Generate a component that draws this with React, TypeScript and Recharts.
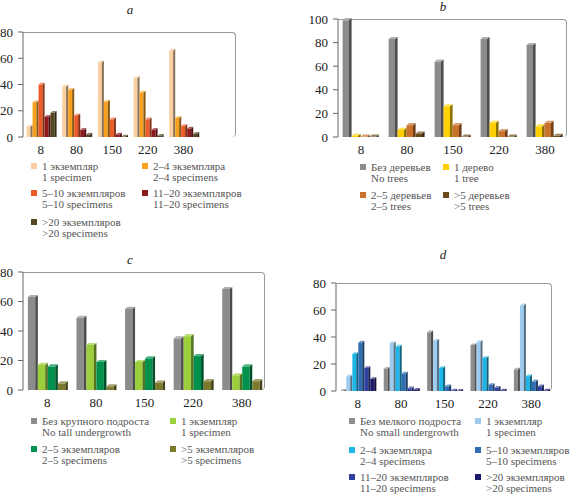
import React from 'react';
import { BarChart, Bar, XAxis, YAxis } from 'recharts';

const FONT = '"Liberation Serif", "Times New Roman", Times, "DejaVu Serif", serif';

// ---------- data ----------
const categoriesA = ['8', '80', '150', '220', '380', ''];
const categories = ['8', '80', '150', '220', '380'];

const aOne = [8, 38.5, 57, 45, 66];
const aTwoFour = [26.5, 36, 27, 34, 14.5];
const aFiveTen = [40, 16.5, 13.5, 13.5, 8.5];
const aElevenTwenty = [15.5, 5.5, 2, 5.5, 6.5];
const aOverTwenty = [18.5, 2, 0.5, 1, 2.5];

const bNoTrees = [99, 83, 64, 83, 78];
const bOneTree = [1, 6, 26, 12, 9];
const bTwoFive = [0.3, 10, 10, 5, 12];
const bOverFive = [0.3, 3, 0.3, 0.3, 1];

const cNone = [63, 49, 55, 35, 68.5];
const cOne = [17, 30.5, 19, 36.5, 10];
const cTwoFive = [16, 19, 21.5, 23, 16];
const cOverFive = [4.5, 2.5, 5, 6, 6];

const dNone = [0.3, 16.5, 43.5, 34, 16];
const dOne = [11, 35.5, 37.5, 36.5, 63.5];
const dTwoFour = [27.5, 33, 17, 24.5, 11];
const dFiveTen = [36, 13, 3.5, 4.5, 7];
const dElevenTwenty = [17, 2, 0.5, 2.5, 3.5];
const dOverTwenty = [9, 1, 0.3, 0.5, 0.5];

const ticks80 = [0, 20, 40, 60, 80];
const ticks100 = [0, 20, 40, 60, 80, 100];

const labelsA = [
  ['1 экземпляр', '1 specimen'],
  ['2–4 экземпляра', '2–4 specimens'],
  ['5–10 экземпляров', '5–10 specimens'],
  ['11–20 экземпляров', '11–20 specimens'],
  ['>20 экземпляров', '>20 specimens'],
];
const labelsB = [
  ['Без деревьев', 'No trees'],
  ['1 дерево', '1 tree'],
  ['2–5 деревьев', '2–5 trees'],
  ['>5 деревьев', '>5 trees'],
];
const labelsC = [
  ['Без крупного подроста', 'No tall undergrowth'],
  ['1 экземпляр', '1 specimen'],
  ['2–5 экземпляров', '2–5 specimens'],
  ['>5 экземпляров', '>5 specimens'],
];
const labelsD = [
  ['Без мелкого подроста', 'No small undergrowth'],
  ['1 экземпляр', '1 specimen'],
  ['2–4 экземпляра', '2–4 specimens'],
  ['5–10 экземпляров', '5–10 specimens'],
  ['11–20 экземпляров', '11–20 specimens'],
  ['>20 экземпляров', '>20 specimens'],
];

const colorsA = ['#FAD0A2', '#F7A11E', '#F05A27', '#8E1C1E', '#554820'];
const colorsB = ['#8C8C8C', '#FFD000', '#C8722E', '#6A4A18'];
const colorsC = ['#8C8C8C', '#9BCF3C', '#00924C', '#7D7A2E'];
const colorsD = ['#8C8C8C', '#9CCBEF', '#1DB6E8', '#2F6DB5', '#2F3F9E', '#1B1B6E'];

// ---------- helpers ----------
function buildRows(cats: string[], series: number[][]) {
  return cats.map((c, i) => {
    const row: any = { cat: c };
    series.forEach((s, k) => {
      row['s' + k] = s[i] === undefined ? null : s[i];
    });
    return row;
  });
}

function shade(hex: string, f: number) {
  const n = parseInt(hex.slice(1), 16);
  const r = (n >> 16) & 255, g = (n >> 8) & 255, b = n & 255;
  const m = (c: number) =>
    Math.max(0, Math.min(255, Math.round(f < 1 ? c * f : c + (255 - c) * (f - 1))));
  return `rgb(${m(r)},${m(g)},${m(b)})`;
}

const Bar3D = (props: any) => {
  const { x, y, width, height, fill } = props;
  if (!isFinite(x) || !isFinite(y) || !(width > 0) || !(height >= 0)) return null;
  const d = Math.min(2.6, width * 0.35);
  const t = d * 0.8;
  const fw = width - d;
  return (
    <g>
      <rect x={x} y={y} width={fw} height={height} fill={fill} />
      <polygon
        points={`${x + fw},${y + height} ${x + fw},${y} ${x + width},${y - t} ${x + width},${y + height}`}
        fill={shade(fill, 0.55)}
      />
      <polygon
        points={`${x},${y} ${x + d},${y - t} ${x + width},${y - t} ${x + fw},${y}`}
        fill={shade(fill, 1.3)}
      />
    </g>
  );
};

type PanelProps = {
  title: string;
  titleX: number;
  titleY: number;
  cats: string[];
  series: number[][];
  colors: string[];
  yMax: number;
  yTicks: number[];
  left: number;
  top: number;
  width: number;
  plotHeight: number;
  yw: number;
  labels: string[][];
  legendCols: number[];
  legendRows: number[];
};

const TOPM = 6;
const XH = 24;

function Panel(p: PanelProps) {
  const data = buildRows(p.cats, p.series);
  const n = p.cats.length;
  const boundaryTicks = Array.from({ length: n + 1 }, (_, i) => i);
  const plotLeft = p.left + p.yw;
  const plotTop = p.top + TOPM;
  return (
    <>
      <div
        style={{
          position: 'absolute',
          left: p.titleX - 20,
          width: 40,
          top: p.titleY - 8,
          textAlign: 'center',
          fontStyle: 'italic',
          fontSize: 13,
          color: '#222',
          lineHeight: '16px',
        }}
      >
        {p.title}
      </div>
      <div
        style={{
          position: 'absolute',
          left: plotLeft,
          top: plotTop,
          width: p.width - p.yw - 1,
          height: p.plotHeight,
          borderTop: '1px solid #9a9a9a',
          borderRight: '1px solid #9a9a9a',
          borderTopRightRadius: 4,
          borderBottomRightRadius: 4,
          boxSizing: 'border-box',
        }}
      />
      <div style={{ position: 'absolute', left: p.left, top: p.top }}>
        <BarChart
          width={p.width}
          height={TOPM + p.plotHeight + XH}
          data={data}
          margin={{ top: TOPM, right: 0, left: 0, bottom: 0 }}
          barCategoryGap="10%"
          barGap={0}
        >
          <XAxis
            xAxisId="tk"
            type="number"
            domain={[0, n]}
            ticks={boundaryTicks}
            height={0}
            tick={false}
            axisLine={{ stroke: '#666' }}
            tickLine={{ stroke: '#666' }}
            tickSize={4}
          />
          <XAxis
            xAxisId="cat"
            dataKey="cat"
            height={XH}
            axisLine={false}
            tickLine={false}
            tickSize={0}
            tickMargin={8}
            interval={0}
            tick={{ fill: '#222', fontSize: 13, fontFamily: FONT }}
          />
          <YAxis
            width={p.yw}
            domain={[0, p.yMax]}
            ticks={p.yTicks}
            interval={0}
            axisLine={{ stroke: '#666' }}
            tickLine={{ stroke: '#666' }}
            tickSize={5}
            tickMargin={5}
            tick={{ fill: '#222', fontSize: 13, fontFamily: FONT }}
          />
          {p.series.map((_, k) => (
            <Bar
              key={k}
              xAxisId="cat"
              dataKey={'s' + k}
              fill={p.colors[k]}
              isAnimationActive={false}
              shape={Bar3D}
            />
          ))}
        </BarChart>
      </div>
      {p.labels.map((lab, i) => {
        const col = i % 2;
        const row = Math.floor(i / 2);
        return (
          <div
            key={i}
            style={{
              position: 'absolute',
              left: p.legendCols[col],
              top: p.legendRows[row] - 5.5,
              whiteSpace: 'nowrap',
            }}
          >
            <div
              style={{
                position: 'absolute',
                left: 0,
                top: 2.5,
                width: 6,
                height: 6,
                background: p.colors[i],
              }}
            />
            <div
              style={{
                position: 'absolute',
                left: 11,
                top: 0,
                fontSize: 11,
                lineHeight: '11px',
                color: '#555',
              }}
            >
              {lab[0]}
              <br />
              {lab[1]}
            </div>
          </div>
        );
      })}
    </>
  );
}

export default function App() {
  return (
    <div
      style={{
        position: 'absolute',
        left: 0,
        top: 0,
        width: 572,
        height: 494,
        overflow: 'hidden',
        background: '#fff',
        fontFamily: FONT,
      }}
    >
      <Panel
        title="a"
        titleX={130}
        titleY={10}
        cats={categoriesA}
        series={[aOne, aTwoFour, aFiveTen, aElevenTwenty, aOverTwenty]}
        colors={colorsA}
        yMax={80}
        yTicks={ticks80}
        left={0}
        top={26}
        width={237}
        plotHeight={105}
        yw={23}
        labels={labelsA}
        legendCols={[31, 142]}
        legendRows={[166, 193, 222]}
      />
      <Panel
        title="b"
        titleX={443}
        titleY={7}
        cats={categories}
        series={[bNoTrees, bOneTree, bTwoFive, bOverFive]}
        colors={colorsB}
        yMax={100}
        yTicks={ticks100}
        left={298}
        top={13}
        width={270}
        plotHeight={118}
        yw={40}
        labels={labelsB}
        legendCols={[360, 443]}
        legendRows={[167, 195]}
      />
      <Panel
        title="c"
        titleX={130}
        titleY={260}
        cats={categories}
        series={[cNone, cOne, cTwoFive, cOverFive]}
        colors={colorsC}
        yMax={80}
        yTicks={ticks80}
        left={0}
        top={266}
        width={266}
        plotHeight={118}
        yw={23}
        labels={labelsC}
        legendCols={[31, 170]}
        legendRows={[421, 449]}
      />
      <Panel
        title="d"
        titleX={443}
        titleY={255}
        cats={categories}
        series={[dNone, dOne, dTwoFour, dFiveTen, dElevenTwenty, dOverTwenty]}
        colors={colorsD}
        yMax={80}
        yTicks={ticks80}
        left={296}
        top={277}
        width={257}
        plotHeight={108}
        yw={40}
        labels={labelsD}
        legendCols={[349, 475]}
        legendRows={[421, 450, 477]}
      />
    </div>
  );
}
